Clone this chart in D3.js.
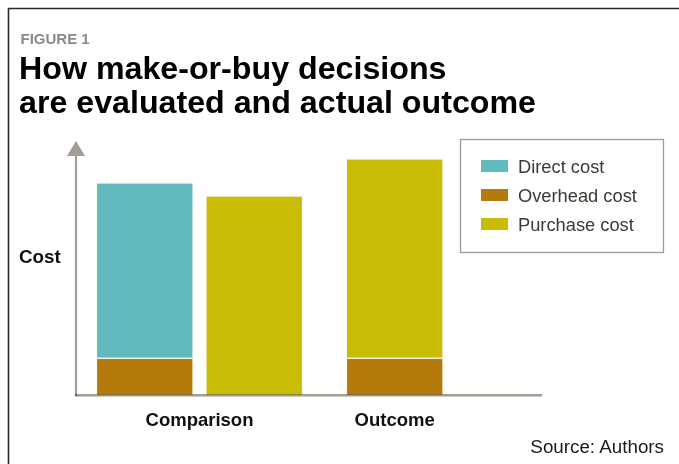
<!DOCTYPE html>
<html>
<head>
<meta charset="utf-8">
<script src="https://cdn.jsdelivr.net/npm/d3@7"></script>
<style>
  html, body { margin: 0; padding: 0; background: #fff; }
  svg { display: block; }
  text { font-family: "Liberation Sans", Arial, Helvetica, sans-serif; }
</style>
</head>
<body>
<svg id="chart" width="679" height="464"></svg>
<script>
// Chart content
const figureLabel = "FIGURE 1";
const titleLines = ["How make-or-buy decisions", "are evaluated and actual outcome"];
const yAxisLabel = "Cost";
const sourceNote = "Source: Authors";

// Categories along the x axis and the group each bar belongs to
const categories = ["Comparison", "Outcome"];
const barGroup = ["Comparison", "Comparison", "Outcome"];

// Cost components per bar (arbitrary cost units)
const seriesNames = ["Direct cost", "Overhead cost", "Purchase cost"];
const directCost   = [175, 0, 0];
const overheadCost = [37, 0, 37];
const purchaseCost = [0, 199, 199];

const seriesColors = {
  "Direct cost": "#62b9be",
  "Overhead cost": "#b47b0c",
  "Purchase cost": "#cabb05"
};

// Stacking order from the baseline upward
const stackOrder = ["Overhead cost", "Direct cost", "Purchase cost"];
const valuesBySeries = {
  "Direct cost": directCost,
  "Overhead cost": overheadCost,
  "Purchase cost": purchaseCost
};

const svg = d3.select("#chart");

// Frame lines (top and left)
svg.append("line").attr("x1", 8).attr("x2", 679).attr("y1", 8.5).attr("y2", 8.5)
  .attr("stroke", "#2a2a2a").attr("stroke-width", 1.6);
svg.append("line").attr("x1", 8.5).attr("x2", 8.5).attr("y1", 8).attr("y2", 464)
  .attr("stroke", "#2a2a2a").attr("stroke-width", 1.6);

// Heading
svg.append("text").attr("x", 20.5).attr("y", 44)
  .attr("font-size", 15).attr("font-weight", "bold").attr("fill", "#8a8a8a")
  .text(figureLabel);
svg.selectAll("text.title").data(titleLines).join("text")
  .attr("class", "title")
  .attr("x", 19).attr("y", (d, i) => 79 + i * 33.5)
  .attr("font-size", 32.2).attr("font-weight", "bold").attr("fill", "#000")
  .text(d => d);

// Scales
const baseY = 395.2;
const y = d3.scaleLinear().domain([0, 250]).range([baseY, 145]);
const groupCenter = d3.scalePoint().domain(categories).range([199.5, 394.7]);
const barWidth = 96.5;
const innerGap = 13;

// Bar rectangles positioned by their group
const barIndex = d3.range(barGroup.length);
function barX(i) {
  const g = barGroup[i];
  const members = barIndex.filter(j => barGroup[j] === g);
  const k = members.indexOf(i);
  const total = members.length * barWidth + (members.length - 1) * innerGap;
  return groupCenter(g) - total / 2 + k * (barWidth + innerGap);
}

const stackRows = barIndex.map(i => {
  const row = {};
  stackOrder.forEach(s => { row[s] = valuesBySeries[s][i]; });
  return row;
});
const stacked = d3.stack().keys(stackOrder)(stackRows);

const segs = [];
stacked.forEach(layer => {
  layer.forEach((d, i) => {
    if (d[1] - d[0] > 0) segs.push({ key: layer.key, i, y0: d[0], y1: d[1] });
  });
});

svg.append("g").selectAll("rect").data(segs).join("rect")
  .attr("x", d => barX(d.i))
  .attr("width", barWidth)
  .attr("y", d => y(d.y1))
  .attr("height", d => y(d.y0) - y(d.y1))
  .attr("fill", d => seriesColors[d.key])
  .attr("stroke", "#fbfaf0")
  .attr("stroke-width", 1.2);

// Axes
const axisColor = "#a39e94";
const axisX = 76;
svg.append("line").attr("x1", axisX).attr("x2", axisX)
  .attr("y1", baseY + 1).attr("y2", 154)
  .attr("stroke", axisColor).attr("stroke-width", 2.2);
svg.append("path")
  .attr("d", `M${axisX - 9},156 L${axisX},141 L${axisX + 9},156 Z`)
  .attr("fill", axisColor);
svg.append("line").attr("x1", axisX - 1).attr("x2", 542)
  .attr("y1", baseY).attr("y2", baseY)
  .attr("stroke", axisColor).attr("stroke-width", 2.4)
  .style("mix-blend-mode", "multiply");

// Category labels
svg.selectAll("text.cat").data(categories).join("text")
  .attr("class", "cat")
  .attr("x", d => groupCenter(d)).attr("y", 425.5)
  .attr("text-anchor", "middle")
  .attr("font-size", 18.5).attr("font-weight", "bold").attr("fill", "#111")
  .text(d => d);

// Y axis title
svg.append("text").attr("x", 19).attr("y", 262.5)
  .attr("font-size", 18.8).attr("font-weight", "bold").attr("fill", "#111")
  .text(yAxisLabel);

// Legend
const legend = svg.append("g");
legend.append("rect").attr("x", 460.5).attr("y", 139.5)
  .attr("width", 203).attr("height", 113)
  .attr("fill", "#fff").attr("stroke", "#a09a90").attr("stroke-width", 1.3);
const items = legend.selectAll("g.item").data(seriesNames).join("g")
  .attr("class", "item")
  .attr("transform", (d, i) => `translate(481,${160 + i * 29})`);
items.append("rect").attr("width", 27).attr("height", 12)
  .attr("fill", d => seriesColors[d]);
items.append("text").attr("x", 37).attr("y", 12.7)
  .attr("font-size", 18.3).attr("fill", "#3d3a33")
  .text(d => d);

// Source note
svg.append("text").attr("x", 664).attr("y", 452.5)
  .attr("text-anchor", "end")
  .attr("font-size", 18.8).attr("fill", "#1a1a1a")
  .text(sourceNote);
</script>
</body>
</html>
